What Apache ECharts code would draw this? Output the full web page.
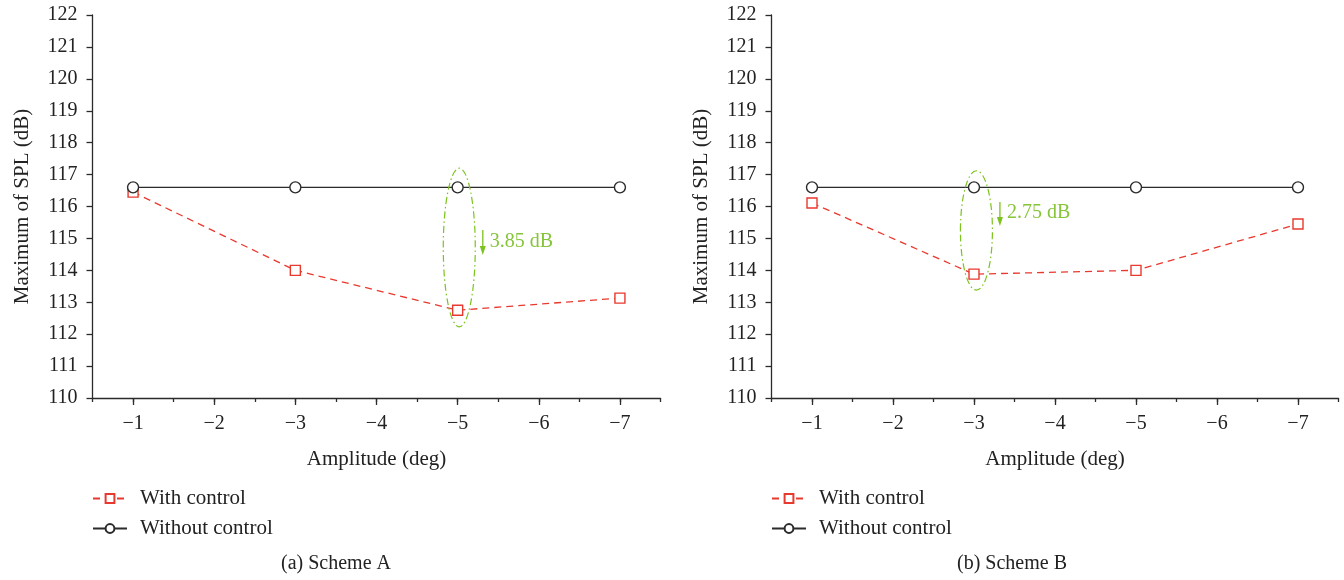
<!DOCTYPE html>
<html>
<head>
<meta charset="utf-8">
<script src="https://cdn.jsdelivr.net/npm/echarts@6/dist/echarts.min.js"></script>
<style>
  html, body { margin: 0; padding: 0; background: #fff; }
  #main { width: 1344px; height: 580px; }
</style>
</head>
<body>
<div id="main"></div>
<script>
var amplitudes = [-1, -3, -5, -7];
var majorTicks = [-1, -2, -3, -4, -5, -6, -7];
var withCtrlA = [116.45, 114.0, 112.75, 113.13];
var withoutCtrlA = [116.6, 116.6, 116.6, 116.6];
var withCtrlB = [116.11, 113.88, 114.0, 115.45];
var withoutCtrlB = [116.6, 116.6, 116.6, 116.6];
var captions = ['(a) Scheme A', '(b) Scheme B'];
var dropLabels = ['3.85 dB', '2.75 dB'];
// annotation anchors in data space: ellipse [x, top, bottom], arrow [x, from, to]
var ellipseA = [-5.02, 117.2, 112.23];
var ellipseB = [-3.03, 117.12, 113.38];
var arrowA = [-5.31, 115.26, 114.48];
var arrowB = [-3.32, 116.14, 115.39];

var FONT = '"Liberation Serif", "DejaVu Serif", serif';
var green = '#7cc31f';
var red = '#e8392e';
var black = '#2b2b2b';

function pairs(xs, ys) {
  return xs.map(function (x, i) { return [x, ys[i]]; });
}

function minus(v) {
  return String(v).replace('-', '\u2212');
}

var grids = [
  { left: 92.5, right: 683.5, top: 15, bottom: 182 },
  { left: 771.5, right: 5.5, top: 15, bottom: 182 }
];

var xAxes = [];
var yAxes = [];
grids.forEach(function (g, gi) {
  xAxes.push({
    type: 'value',
    gridIndex: gi,
    min: -7.5,
    max: -0.5,
    interval: 0.5,
    inverse: true,
    position: 'bottom',
    name: 'Amplitude (deg)',
    nameLocation: 'middle',
    nameGap: 51,
    nameTextStyle: { fontFamily: FONT, fontSize: 21, color: '#222' },
    axisLine: { show: true, lineStyle: { color: black, width: 1.3 } },
    axisTick: { show: true, length: 4, lineStyle: { color: black, width: 1.3 } },
    axisLabel: { show: false },
    splitLine: { show: false }
  });
  xAxes.push({
    type: 'value',
    gridIndex: gi,
    min: -7.5,
    max: -0.5,
    inverse: true,
    position: 'bottom',
    axisLine: { show: false },
    axisTick: { show: true, length: 7, customValues: majorTicks, lineStyle: { color: black, width: 1.3 } },
    axisLabel: {
      show: true,
      customValues: majorTicks,
      margin: 16,
      fontFamily: FONT,
      fontSize: 20,
      color: '#222',
      formatter: minus
    },
    splitLine: { show: false }
  });
  yAxes.push({
    type: 'value',
    gridIndex: gi,
    min: 110,
    max: 122,
    interval: 1,
    name: 'Maximum of SPL (dB)',
    nameLocation: 'middle',
    nameGap: 60,
    nameTextStyle: { fontFamily: FONT, fontSize: 21, color: '#222' },
    axisLine: { show: true, lineStyle: { color: black, width: 1.3 } },
    axisTick: { show: true, length: 6, lineStyle: { color: black, width: 1.3 } },
    axisLabel: { margin: 15, fontFamily: FONT, fontSize: 20, color: '#222' },
    splitLine: { show: false }
  });
});

function withSeries(data, gi) {
  return {
    name: 'With control',
    type: 'line',
    xAxisIndex: gi * 2,
    yAxisIndex: gi,
    data: pairs(amplitudes, data),
    symbol: 'rect',
    symbolSize: 10,
    itemStyle: { color: '#fff', borderColor: red, borderWidth: 1.4 },
    lineStyle: { color: red, width: 1.3, type: [7, 5] },
    animation: false
  };
}

function withoutSeries(data, gi) {
  return {
    name: 'Without control',
    type: 'line',
    xAxisIndex: gi * 2,
    yAxisIndex: gi,
    data: pairs(amplitudes, data),
    symbol: 'circle',
    symbolSize: 11,
    itemStyle: { color: '#fff', borderColor: black, borderWidth: 1.4 },
    lineStyle: { color: black, width: 1.3 },
    animation: false
  };
}

var legends = [92, 771].map(function (x) {
  return {
    orient: 'vertical',
    left: x,
    top: 488,
    padding: 0,
    itemGap: 9,
    itemWidth: 34,
    itemHeight: 11,
    selectedMode: false,
    data: ['With control', 'Without control'],
    textStyle: { fontFamily: FONT, fontSize: 21, color: '#222', padding: [0, 0, 0, 8] }
  };
});

var chart = echarts.init(document.getElementById('main'));
chart.setOption({
  animation: false,
  grid: grids,
  xAxis: xAxes,
  yAxis: yAxes,
  legend: legends,
  series: [
    withSeries(withCtrlA, 0),
    withoutSeries(withoutCtrlA, 0),
    withSeries(withCtrlB, 1),
    withoutSeries(withoutCtrlB, 1)
  ]
});

function annotate(seriesIndex, ell, arr, label) {
  var top = chart.convertToPixel({ seriesIndex: seriesIndex }, [ell[0], ell[1]]);
  var bot = chart.convertToPixel({ seriesIndex: seriesIndex }, [ell[0], ell[2]]);
  var a0 = chart.convertToPixel({ seriesIndex: seriesIndex }, [arr[0], arr[1]]);
  var a1 = chart.convertToPixel({ seriesIndex: seriesIndex }, [arr[0], arr[2]]);
  return [
    {
      type: 'ellipse',
      shape: { cx: top[0], cy: (top[1] + bot[1]) / 2, rx: 16, ry: (bot[1] - top[1]) / 2 },
      style: { fill: 'none', stroke: green, lineWidth: 1.2, lineDash: [7, 3, 1.5, 3] },
      z: 10
    },
    {
      type: 'line',
      shape: { x1: a0[0], y1: a0[1], x2: a1[0], y2: a1[1] - 6 },
      style: { stroke: green, lineWidth: 1.3 },
      z: 10
    },
    {
      type: 'polygon',
      shape: { points: [[a1[0] - 3, a1[1] - 9], [a1[0] + 3, a1[1] - 9], [a1[0], a1[1]]] },
      style: { fill: green },
      z: 10
    },
    {
      type: 'text',
      style: {
        text: label,
        x: a0[0] + 7,
        y: (a0[1] + a1[1]) / 2 - 1,
        font: '20px ' + FONT,
        fill: '#86c43a',
        align: 'left',
        verticalAlign: 'middle'
      },
      z: 10
    }
  ];
}

var gfx = [].concat(
  annotate(0, ellipseA, arrowA, dropLabels[0]),
  annotate(2, ellipseB, arrowB, dropLabels[1])
);
[336, 1012].forEach(function (cx, i) {
  gfx.push({
    type: 'text',
    style: {
      text: captions[i],
      x: cx,
      y: 564,
      font: '20px ' + FONT,
      fill: '#222',
      align: 'center',
      verticalAlign: 'middle'
    }
  });
});
chart.setOption({ graphic: gfx });

window.addEventListener('resize', function () {
  chart.resize();
});
</script>
</body>
</html>
